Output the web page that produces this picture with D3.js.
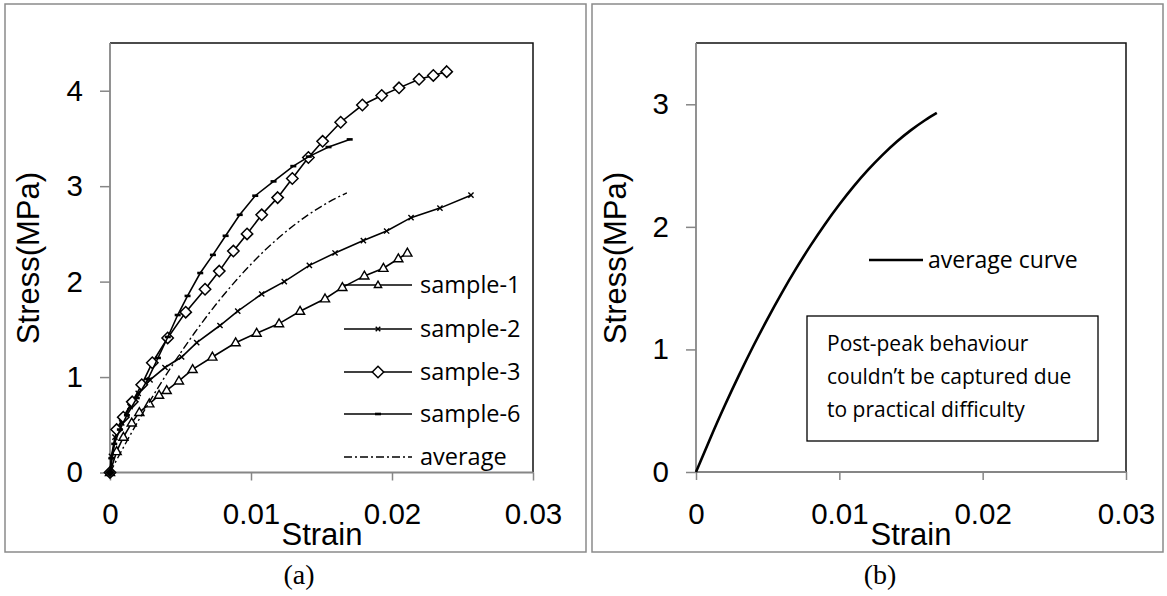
<!DOCTYPE html>
<html><head><meta charset="utf-8">
<script src="https://cdn.jsdelivr.net/npm/d3@7"></script>
<style>html,body{margin:0;padding:0;background:#fff}svg{display:block}</style>
</head><body>
<svg id="chart" width="1167" height="596"></svg>
<script>
// ---- data ----
const strainTicks = [0, 0.01, 0.02, 0.03];
const stressTicksA = [0, 1, 2, 3, 4];
const stressTicksB = [0, 1, 2, 3];
const seriesNames = ["sample-1", "sample-2", "sample-3", "sample-6", "average"];
const sample1 = [[0,0],[0.00047,0.22],[0.00095,0.37],[0.00154,0.52],[0.00208,0.63],[0.00279,0.72],[0.00348,0.81],[0.00402,0.86],[0.00489,0.96],[0.00586,1.08],[0.00726,1.21],[0.00891,1.36],[0.0104,1.46],[0.01199,1.56],[0.01348,1.69],[0.01525,1.82],[0.01648,1.94],[0.01804,2.06],[0.01939,2.14],[0.02045,2.24],[0.02109,2.30]];
const sample2 = [[0,0],[0.0001,0.17],[0.00035,0.37],[0.00083,0.52],[0.00142,0.69],[0.002,0.83],[0.00284,0.97],[0.0039,1.10],[0.00508,1.21],[0.00615,1.36],[0.0078,1.54],[0.00906,1.69],[0.01076,1.87],[0.01236,2.00],[0.01414,2.17],[0.01596,2.30],[0.01797,2.43],[0.01962,2.53],[0.02135,2.67],[0.0234,2.77],[0.0256,2.906]];
const sample3 = [[0,0],[0.00047,0.45],[0.00094,0.58],[0.00158,0.74],[0.00225,0.92],[0.003,1.15],[0.00409,1.41],[0.00537,1.68],[0.00674,1.92],[0.00775,2.11],[0.00875,2.32],[0.00972,2.50],[0.01076,2.70],[0.01189,2.88],[0.01293,3.08],[0.01407,3.30],[0.01508,3.47],[0.01636,3.67],[0.0179,3.85],[0.01927,3.95],[0.0205,4.03],[0.02192,4.12],[0.02293,4.16],[0.02388,4.20]];
const sample6 = [[0,0],[0.0001,0.15],[0.0003,0.30],[0.0007,0.45],[0.0012,0.60],[0.0019,0.78],[0.0027,0.98],[0.0034,1.20],[0.0041,1.42],[0.0048,1.65],[0.0055,1.85],[0.0064,2.09],[0.0073,2.28],[0.0082,2.48],[0.0092,2.70],[0.0103,2.90],[0.0116,3.05],[0.0130,3.21],[0.0141,3.31],[0.0155,3.41],[0.0170,3.49]];
const average = [[0,0],[0.001,0.276],[0.002,0.540],[0.003,0.790],[0.004,1.028],[0.005,1.252],[0.006,1.464],[0.007,1.663],[0.008,1.849],[0.009,2.022],[0.010,2.182],[0.011,2.330],[0.012,2.464],[0.013,2.585],[0.014,2.694],[0.015,2.789],[0.016,2.872],[0.0168,2.930]];
const noteLines = ["Post-peak behaviour", "couldn\u2019t be captured due", "to practical difficulty"];

// ---- drawing ----
const svg = d3.select("#chart");
const GRAY = "#8a8a8a";
const AXG = "#868686";
const TICKFONT = "'Liberation Sans', Arial, sans-serif";
const BODYFONT = "'Open Sans', sans-serif";

function panel(opt) {
  const g = svg.append("g");
  g.append("rect").attr("x", opt.frame[0]).attr("y", opt.frame[1])
    .attr("width", opt.frame[2]-opt.frame[0]).attr("height", opt.frame[3]-opt.frame[1])
    .attr("fill", "none").attr("stroke", GRAY).attr("stroke-width", 1.5);
  const x = d3.scaleLinear().domain([0, 0.03]).range([opt.left, opt.right]);
  const y = d3.scaleLinear().domain([0, opt.ymax]).range([opt.bottom, opt.top]);
  g.append("path").attr("d", `M${opt.left},${opt.top}H${opt.right}V${opt.bottom}`)
    .attr("fill", "none").attr("stroke", "#111").attr("stroke-width", 1.5);
  const xa = g.append("g").attr("transform", `translate(0,${opt.bottom})`)
    .call(d3.axisBottom(x).tickValues(strainTicks).tickSize(8).tickPadding(23).tickFormat(d => String(d)));
  const ya = g.append("g").attr("transform", `translate(${opt.left},0)`)
    .call(d3.axisLeft(y).tickValues(opt.yticks).tickSize(10).tickPadding(17).tickFormat(d => String(d)));
  [xa, ya].forEach(a => {
    a.select(".domain").attr("stroke", AXG).attr("stroke-width", 1.8);
    a.selectAll(".tick line").attr("stroke", AXG).attr("stroke-width", 1.5);
    a.selectAll("text").attr("font-family", TICKFONT).attr("font-size", 29.5).attr("fill", "#000");
  });
  ya.select(".domain").attr("d", `M0,${opt.bottom}V${opt.top}`);
  xa.select(".domain").attr("d", `M${opt.left},0H${opt.right}`);
  g.append("text").attr("x", opt.strainX).attr("y", 545).attr("text-anchor", "middle")
    .attr("font-family", TICKFONT).attr("font-size", 31).text("Strain");
  g.append("text").attr("transform", `translate(${opt.stressX},258) rotate(-90)`).attr("text-anchor", "middle")
    .attr("font-family", TICKFONT).attr("font-size", 31).text("Stress(MPa)");
  g.append("text").attr("x", opt.capX).attr("y", 584).attr("text-anchor", "middle")
    .attr("font-family", "'Liberation Serif', 'Times New Roman', serif").attr("font-size", 28).text(opt.caption);
  return {g, x, y};
}

const line = (x, y) => d3.line().x(d => x(d[0])).y(d => y(d[1]));

function tri(sel, s) {
  sel.append("path").attr("d", `M0,${-s}L${s*0.95},${s*0.65}L${-s*0.95},${s*0.65}Z`)
    .attr("fill", "#fff").attr("stroke", "#000").attr("stroke-width", 1.4);
}
function xmark(sel, s) {
  sel.append("path").attr("d", `M${-s},${-s}L${s},${s}M${-s},${s}L${s},${-s}`)
    .attr("stroke", "#000").attr("stroke-width", 1.4);
}
function diamond(sel, s) {
  sel.append("path").attr("d", `M0,${-s}L${s},0L0,${s}L${-s},0Z`)
    .attr("fill", "#fff").attr("stroke", "#000").attr("stroke-width", 1.5);
}
function dash(sel, s) {
  sel.append("rect").attr("x", -s).attr("y", -1.3).attr("width", 2*s).attr("height", 2.6).attr("fill", "#000");
}

// ---- panel (a) ----
const A = panel({frame:[5,4,586,552], left:110, right:533, top:43, bottom:472.5, ymax:4.5,
  yticks: stressTicksA, strainX:322, stressX:39, capX:299, caption:"(a)"});
const seriesA = [
  {name: seriesNames[0], data: sample1, mk: tri, ms: 4.8},
  {name: seriesNames[1], data: sample2, mk: xmark, ms: 2.6},
  {name: seriesNames[2], data: sample3, mk: diamond, ms: 5.7},
  {name: seriesNames[3], data: sample6, mk: dash, ms: 3}
];
seriesA.forEach(s => {
  A.g.append("path").datum(s.data).attr("d", line(A.x, A.y))
    .attr("fill", "none").attr("stroke", "#000").attr("stroke-width", 1.6);
  A.g.selectAll(null).data(s.data).enter().append("g")
    .attr("transform", d => `translate(${A.x(d[0])},${A.y(d[1])})`)
    .each(function() { s.mk(d3.select(this), s.ms); });
});
A.g.append("path").datum(average).attr("d", line(A.x, A.y).curve(d3.curveMonotoneX))
  .attr("fill", "none").attr("stroke", "#000").attr("stroke-width", 1.4).attr("stroke-dasharray", "8,3,2,3");
A.g.append("path").attr("transform", `translate(${A.x(0)},${A.y(0)})`).attr("d", "M0,-5L5,0L0,5L-5,0Z").attr("fill", "#000");

const legYs = [285, 329, 372, 414, 457];
seriesA.concat([{name: seriesNames[4]}]).forEach((s, i) => {
  const ly = legYs[i];
  const lg = A.g.append("g");
  lg.append("line").attr("x1", 344).attr("x2", 412).attr("y1", ly).attr("y2", ly)
    .attr("stroke", "#000").attr("stroke-width", 1.6)
    .attr("stroke-dasharray", s.mk ? null : "8,3,2,3");
  if (s.mk) {
    const m = lg.append("g").attr("transform", `translate(378,${ly})`);
    s.mk(m, s.mk === tri ? 3.8 : s.mk === diamond ? 5.7 : s.mk === xmark ? 2.3 : 3);
  }
  lg.append("text").attr("x", 420).attr("y", ly + 8).attr("font-family", BODYFONT)
    .attr("font-size", 23.5).text(s.name);
});

// ---- panel (b) ----
const B = panel({frame:[592,4,1163,552], left:696, right:1126, top:43, bottom:472, ymax:3.5,
  yticks: stressTicksB, strainX:911, stressX:626, capX:880, caption:"(b)"});
B.g.append("path").datum(average).attr("d", line(B.x, B.y).curve(d3.curveMonotoneX))
  .attr("fill", "none").attr("stroke", "#000").attr("stroke-width", 2.6);
B.g.append("line").attr("x1", 869).attr("x2", 923).attr("y1", 260).attr("y2", 260)
  .attr("stroke", "#000").attr("stroke-width", 2.6);
B.g.append("text").attr("x", 928).attr("y", 268).attr("font-family", BODYFONT)
  .attr("font-size", 23).text("average curve");
B.g.append("rect").attr("x", 807).attr("y", 316).attr("width", 291).attr("height", 125)
  .attr("fill", "#fff").attr("stroke", "#000").attr("stroke-width", 1.3);
B.g.selectAll(null).data(noteLines).enter().append("text")
  .attr("x", 827).attr("y", (d, i) => 351 + i * 33)
  .attr("font-family", BODYFONT).attr("font-size", 21).text(d => d);
</script>
</body></html>
